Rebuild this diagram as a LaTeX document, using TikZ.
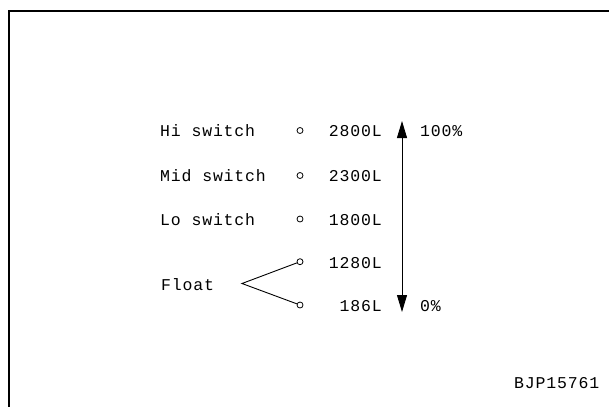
\documentclass[tikz,border=0pt]{standalone}
\usepackage{fontspec}
\usetikzlibrary{arrows.meta}
\newfontfamily\lblfont[LetterSpace=5]{Liberation Mono}
\begin{document}
\begin{tikzpicture}[x=1pt,y=-1pt,
  lbl/.style={font=\lblfont\fontsize{16.5}{16.5}\selectfont, inner sep=0pt, anchor=base west},
  num/.style={lbl, anchor=base east},
  circ/.style={circle, draw, minimum size=6pt, inner sep=0pt, line width=0.8pt},
  frame/.style={line width=2pt},
  conn/.style={line width=0.9pt},
  tip/.style={-{Triangle[width=10pt,length=17pt]}}]
\useasboundingbox (0,0) rectangle (609,407);
\draw[frame] (609,10.5) -- (8.5,10.5) -- (8.5,407);
% labels
\node[lbl] (hi) at (160,136.3) {Hi switch};
\node[lbl] (mid) at (160,181.5) {Mid switch};
\node[lbl] (lo) at (160,225) {Lo switch};
\node[lbl] (float) at (161,290) {Float};
% circles
\node[circ] (c1) at (300,130.5) {};
\node[circ] (c2) at (300,175.5) {};
\node[circ] (c3) at (300,219) {};
\node[circ] (c4) at (300,261.7) {};
\node[circ] (c5) at (300,305) {};
% values
\node[num] (v1) at (382,136.3) {2800L};
\node[num] (v2) at (382,181.5) {2300L};
\node[num] (v3) at (382,225) {1800L};
\node[num] (v4) at (382,268) {1280L};
\node[num] (v5) at (382,311.5) {186L};
% float branches
\coordinate (fv) at (242,283.5);
\draw[conn] (c4) -- (fv) -- (c5);
% arrow
\coordinate (amid) at (402,215);
\coordinate (atop) at (402,121);
\coordinate (abot) at (402,312);
\draw[conn,tip] (amid) -- (atop);
\draw[conn,tip] (amid) -- (abot);
\node[lbl] (p100) at (420,136.3) {100\%};
\node[lbl] (p0) at (420,311.5) {0\%};
\node[lbl] (code) at (514,388) {BJP15761};
\end{tikzpicture}
\end{document}
